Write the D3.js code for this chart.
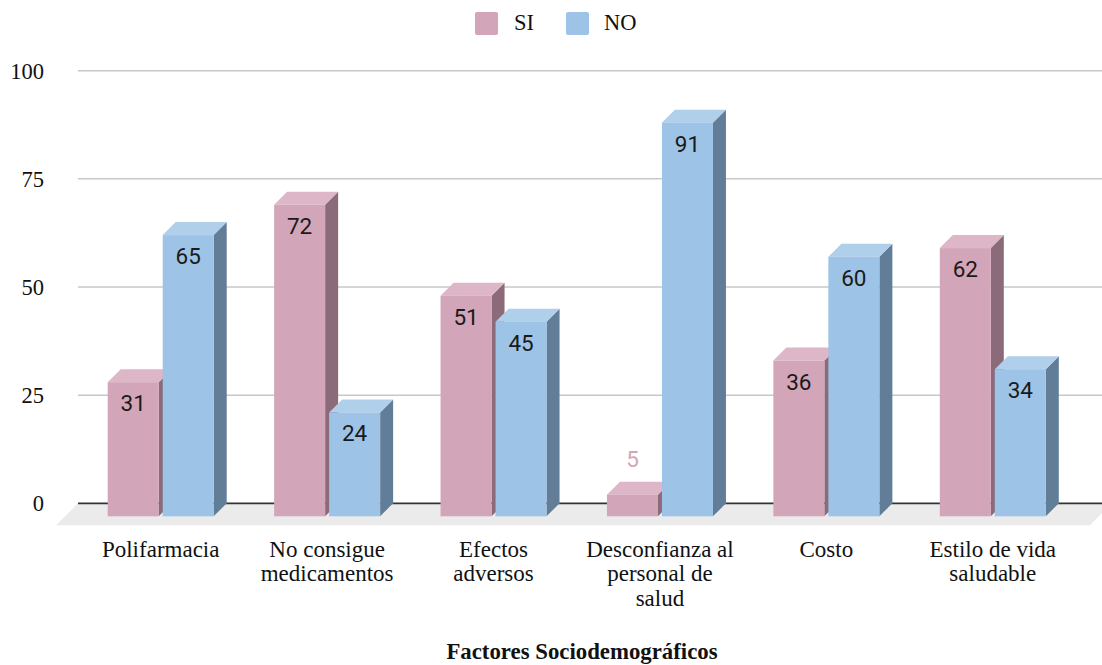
<!DOCTYPE html>
<html>
<head>
<meta charset="utf-8">
<script src="https://cdn.jsdelivr.net/npm/d3@7"></script>
<style>
  html, body { margin: 0; padding: 0; background: #fff; }
  svg { display: block; }
</style>
</head>
<body>
<svg id="chart" width="1102" height="665"></svg>
<script>
// Data
const categories = [
  ["Polifarmacia"],
  ["No consigue", "medicamentos"],
  ["Efectos", "adversos"],
  ["Desconfianza al", "personal de", "salud"],
  ["Costo"],
  ["Estilo de vida", "saludable"]
];
const seriesNames = ["SI", "NO"];
const siValues = [31, 72, 51, 5, 36, 62];
const noValues = [65, 24, 45, 91, 60, 34];
const yTicks = [0, 25, 50, 75, 100];
const axisTitle = "Factores Sociodemográficos";

const colors = {
  SI: { front: "#d3a5b8", top: "#ddb6c8", side: "#8b6a79" },
  NO: { front: "#9dc3e6", top: "#b0cfeb", side: "#627d97" }
};

const svg = d3.select("#chart");
const W = 1102;
const serif = "'Liberation Serif', 'Times New Roman', serif";
const sans = "Roboto, 'Noto Sans', sans-serif";

// 3D depth offset between the front face and the back wall
const DX = 13, DY = 13;

// Value scale lives on the back wall (gridlines)
const y = d3.scaleLinear().domain([0, 100]).range([503.3, 70.7]);

// Category bands on the front plane
const keys = categories.map((c, i) => i);
const x0 = d3.scaleBand().domain(keys).range([77.5, 1076]).paddingInner(0).paddingOuter(0);
const groupW = 106;
const x1 = d3.scaleBand().domain(seriesNames).range([0, groupW]).paddingInner(0.0727).paddingOuter(0);

// Gridlines
svg.append("g").selectAll("line")
  .data(yTicks.filter(t => t !== 0))
  .join("line")
  .attr("x1", 78).attr("x2", W)
  .attr("y1", d => y(d)).attr("y2", d => y(d))
  .attr("stroke", "#c8c8c8").attr("stroke-width", 1.5);

// Floor
const y0 = y(0);
svg.append("polygon")
  .attr("points", [[78, y0], [1112, y0], [1090, y0 + 22], [56, y0 + 22]].map(p => p.join(",")).join(" "))
  .attr("fill", "#ebebeb");

// Baseline
svg.append("line")
  .attr("x1", 78).attr("x2", W)
  .attr("y1", y0).attr("y2", y0)
  .attr("stroke", "#333").attr("stroke-width", 1.8);

// Y tick labels
svg.append("g").selectAll("text")
  .data(yTicks)
  .join("text")
  .attr("x", 44)
  .attr("y", d => y(d) + 8)
  .attr("text-anchor", "end")
  .attr("font-family", serif)
  .attr("font-size", 22.5)
  .attr("fill", "#111")
  .text(d => d);

// Bars
const rows = keys.map(i => ({ i, SI: siValues[i], NO: noValues[i] }));
const gBars = svg.append("g");
rows.forEach(r => {
  const cx = x0(r.i) + x0.bandwidth() / 2;
  seriesNames.forEach(s => {
    const v = r[s];
    const bx = cx - groupW / 2 + x1(s);
    const bw = x1.bandwidth();
    const top = y(v) + DY;       // front-face top
    const bottom = y(0) + DY;    // front-face bottom
    const c = colors[s];
    const g = gBars.append("g");
    // side face
    g.append("polygon")
      .attr("points", [[bx + bw, top], [bx + bw + DX, top - DY], [bx + bw + DX, bottom - DY], [bx + bw, bottom]].map(p => p.join(",")).join(" "))
      .attr("fill", c.side);
    // top face
    g.append("polygon")
      .attr("points", [[bx, top], [bx + DX, top - DY], [bx + bw + DX, top - DY], [bx + bw, top]].map(p => p.join(",")).join(" "))
      .attr("fill", c.top);
    // front face
    g.append("rect")
      .attr("x", bx).attr("y", top)
      .attr("width", bw).attr("height", bottom - top)
      .attr("fill", c.front);
    // value label
    const inside = (bottom - top) > 40;
    g.append("text")
      .attr("x", bx + bw / 2)
      .attr("y", inside ? top + 29 : top - DY - 15)
      .attr("text-anchor", "middle")
      .attr("font-family", sans)
      .attr("font-size", 22.5)
      .attr("fill", inside ? "#1a1a1a" : c.front)
      .text(v);
  });
});

// Category labels
const gCat = svg.append("g");
categories.forEach((lines, i) => {
  const cx = x0(i) + x0.bandwidth() / 2;
  const t = gCat.append("text")
    .attr("text-anchor", "middle")
    .attr("font-family", serif)
    .attr("font-size", 23)
    .attr("fill", "#111");
  lines.forEach((ln, k) => {
    t.append("tspan").attr("x", cx).attr("y", 557 + k * 24.3).text(ln);
  });
});

// Axis title
svg.append("text")
  .attr("x", 582).attr("y", 659)
  .attr("text-anchor", "middle")
  .attr("font-family", serif)
  .attr("font-weight", "bold")
  .attr("font-size", 22.8)
  .attr("fill", "#111")
  .text(axisTitle);

// Legend
const legend = svg.append("g");
const legendItems = [
  { name: "SI", sx: 475, tx: 514 },
  { name: "NO", sx: 566, tx: 604 }
];
legendItems.forEach(d => {
  legend.append("rect")
    .attr("x", d.sx).attr("y", 12)
    .attr("width", 23).attr("height", 23)
    .attr("rx", 2)
    .attr("fill", colors[d.name].front);
  legend.append("text")
    .attr("x", d.tx).attr("y", 30)
    .attr("font-family", serif)
    .attr("font-size", 22.5)
    .attr("fill", "#111")
    .text(d.name);
});
</script>
</body>
</html>
